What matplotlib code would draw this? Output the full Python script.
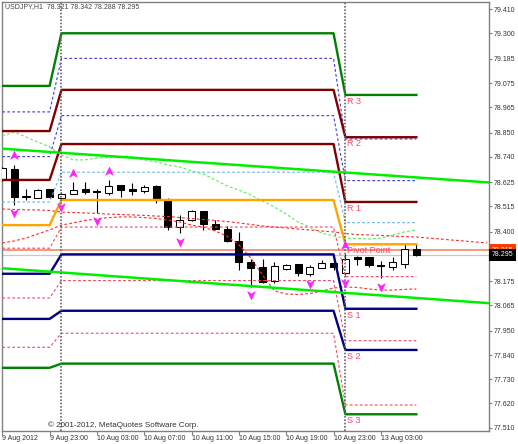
import numpy as np
import matplotlib
matplotlib.use('Agg')
import matplotlib.pyplot as plt
from matplotlib.path import Path
from matplotlib.transforms import offset_copy, blended_transform_factory

plt.rcParams['font.family'] = ['Liberation Sans', 'DejaVu Sans']

# USDJPY H1 bars, 9 Aug 19:00 .. 13 Aug 06:00
opens = [78.635, 78.683, 78.560, 78.555, 78.592, 78.555, 78.571, 78.592, 78.583, 78.577,
         78.612, 78.592, 78.587, 78.608, 78.544, 78.423, 78.451, 78.494, 78.434, 78.412,
         78.358, 78.262, 78.241, 78.174, 78.231, 78.252, 78.210, 78.237, 78.256, 78.212,
         78.284, 78.283, 78.249, 78.238, 78.253, 78.321]
highs = [78.694, 78.705, 78.594, 78.592, 78.596, 78.580, 78.626, 78.627, 78.593, 78.635,
         78.614, 78.621, 78.614, 78.610, 78.551, 78.476, 78.499, 78.496, 78.451, 78.428,
         78.399, 78.276, 78.276, 78.262, 78.253, 78.253, 78.249, 78.271, 78.271, 78.299,
         78.291, 78.285, 78.267, 78.286, 78.342, 78.342]
lows = [78.630, 78.523, 78.544, 78.554, 78.555, 78.551, 78.569, 78.570, 78.485, 78.567,
        78.558, 78.567, 78.576, 78.530, 78.408, 78.393, 78.449, 78.408, 78.408, 78.355,
        78.226, 78.150, 78.169, 78.167, 78.228, 78.201, 78.199, 78.234, 78.226, 78.203,
        78.249, 78.240, 78.188, 78.228, 78.233, 78.288]
closes = [78.688, 78.559, 78.557, 78.589, 78.558, 78.573, 78.589, 78.578, 78.580, 78.608,
          78.589, 78.587, 78.603, 78.544, 78.423, 78.451, 78.495, 78.435, 78.412, 78.358,
          78.262, 78.234, 78.173, 78.244, 78.251, 78.211, 78.240, 78.256, 78.238, 78.276,
          78.277, 78.249, 78.242, 78.262, 78.321, 78.295]

# daily pivot levels (9 Aug, 10 Aug, 13 Aug) and bars per day on the chart
bars_per_day = [5, 24, 7]
r3 = [79.062, 79.301, 79.021]
m5 = [78.944, 79.187, 78.821]
r2 = [78.857, 79.044, 78.829]
m4 = [78.741, 78.927, 78.632]
r1 = [78.635, 78.798, 78.535]
m3 = [78.535, 78.670, 78.441]
pivot = [78.430, 78.544, 78.343]
m2 = [78.325, 78.421, 78.196]
s1 = [78.209, 78.297, 78.050]
m1 = [78.099, 78.178, 77.905]
s2 = [78.004, 78.041, 77.863]
m0 = [77.875, 77.939, 77.613]
s3 = [77.782, 77.801, 77.571]

# indicator curves
green_ma = [78.835, 78.853, 78.830, 78.807, 78.785, 78.748, 78.726, 78.726, 78.735, 78.737,
            78.739, 78.739, 78.726, 78.717, 78.703, 78.694, 78.676, 78.662, 78.635, 78.608,
            78.589, 78.567, 78.539, 78.512, 78.480, 78.444, 78.421, 78.394, 78.380, 78.371,
            78.369, 78.367, 78.371, 78.385, 78.399, 78.408]
red_fast = [78.349, 78.358, 78.371, 78.390, 78.408, 78.430, 78.440, 78.451, 78.458, 78.464,
            78.467, 78.467, 78.464, 78.460, 78.453, 78.444, 78.430, 78.421, 78.403, 78.380,
            78.340, 78.281, 78.203, 78.131, 78.117, 78.115, 78.119, 78.131, 78.144, 78.149,
            78.147, 78.140, 78.135, 78.135, 78.138, 78.140]
red_slow = [78.503, 78.501, 78.499, 78.499, 78.496, 78.489, 78.487, 78.485, 78.483, 78.480,
            78.478, 78.476, 78.474, 78.471, 78.469, 78.464, 78.460, 78.455, 78.451, 78.446,
            78.440, 78.433, 78.426, 78.421, 78.417, 78.412, 78.408, 78.403, 78.399, 78.392,
            78.387, 78.385, 78.383, 78.380, 78.378, 78.376, 78.371, 78.367, 78.362, 78.358,
            78.353, 78.349]

# trend lines (bar index, price)
upper_trend = [(0, 78.777), (41, 78.624)]
lower_trend = [(0, 78.234), (41, 78.076)]

up_fractals = [1, 6, 9, 29]
down_fractals = [1, 5, 8, 15, 21, 26, 29, 32]

separators = [5, 29]
ask, bid = 78.315, 78.295

ytick_vals = [79.410, 79.300, 79.185, 79.075, 78.965, 78.850, 78.740, 78.625, 78.515,
              78.400, 78.175, 78.065, 77.950, 77.840, 77.730, 77.620, 77.510]
xtick_pos = [0, 4, 8, 12, 16, 20, 24, 28, 32]
xtick_labels = ['9 Aug 2012', '9 Aug 23:00', '10 Aug 03:00', '10 Aug 07:00', '10 Aug 11:00',
                '10 Aug 15:00', '10 Aug 19:00', '10 Aug 23:00', '13 Aug 03:00']

fig = plt.figure(figsize=(5.18, 4.44), dpi=100)
ax = fig.add_axes([2 / 518, 13 / 444, 487 / 518, 429 / 444])
ax.set_xlim(-0.025, 41.14)
ax.set_ylim(77.495, 79.443)

x = np.arange(len(opens))
o = np.array(opens)
c = np.array(closes)

# candles
ax.vlines(x, lows, highs, color='black', lw=0.8, zorder=3)
face = ['white' if cc >= oo else 'black' for oo, cc in zip(o, c)]
ax.bar(x, np.abs(c - o), bottom=np.minimum(o, c), width=0.6, color=face,
       edgecolor='black', linewidth=0.75, zorder=4)

DOT = (0, (2.5, 2))

solid_levels = [(r3, '#008000'), (r2, '#800000'), (r1, '#800000'), (pivot, '#ffa500'),
                (s1, '#000080'), (s2, '#000080'), (s3, '#008000')]
dotted_levels = [(m5, '#3c3cdc'), (m4, '#3c3cdc'), (m3, '#6cb4ec'),
                 (m2, '#f04860'), (m1, '#f04860'), (m0, '#f04860')]

for lev, col in dotted_levels:
    ax.plot(x, np.repeat(lev, bars_per_day), color=col, lw=0.8, ls=DOT, zorder=5)
for lev, col in solid_levels:
    ax.plot(x, np.repeat(lev, bars_per_day), color=col, lw=1.7, zorder=6)

ax.plot(x, green_ma, color='#55ee55', lw=0.8, ls=DOT, zorder=5)
ax.plot(x, red_fast, color='#ff2a2a', lw=0.8, ls=DOT, zorder=5)
ax.plot(np.arange(len(red_slow)), red_slow, color='#ff2a2a', lw=0.8, ls=DOT, zorder=5)

ax.axline(*upper_trend, color='#00ee00', lw=1.8, zorder=6)
ax.axline(*lower_trend, color='#00ee00', lw=1.8, zorder=6)

ax.axhline(ask, color='#f47c55', lw=1.1, zorder=2)
ax.axhline(bid, color='#c8c8c8', lw=0.9, zorder=2)

for s in separators:
    ax.axvline(s, color='#666666', lw=1.2, ls=(0, (1, 1)), zorder=7)

# level labels on the last day
label_color = '#ff4466'
names = ['R 3', 'R 2', 'R 1', 'Pivot Point', 'S 1', 'S 2', 'S 3']
for name, lev in zip(names, [r3, r2, r1, pivot, s1, s2, s3]):
    ax.annotate(name, xy=(separators[1], lev[2]), xytext=(1, -4.7), textcoords='offset points',
                ha='left', va='center', fontsize=6.5, color=label_color, zorder=8)

# fractal arrows
up_arrow = Path([(0, 1), (0.9, -0.9), (0, -0.35), (-0.9, -0.9), (0, 1)],
                [Path.MOVETO, Path.LINETO, Path.LINETO, Path.LINETO, Path.CLOSEPOLY])
down_arrow = Path([(0, -1), (0.9, 0.9), (0, 0.35), (-0.9, 0.9), (0, -1)],
                  [Path.MOVETO, Path.LINETO, Path.LINETO, Path.LINETO, Path.CLOSEPOLY])
ax.plot(up_fractals, [highs[i] for i in up_fractals], ls='none', marker=up_arrow, ms=6,
        color='#ff22ff', mec='#ff22ff', mew=0.5,
        transform=offset_copy(ax.transData, fig, y=6.5, units='points'), zorder=8)
ax.plot(down_fractals, [lows[i] for i in down_fractals], ls='none', marker=down_arrow, ms=6,
        color='#ff22ff', mec='#ff22ff', mew=0.5,
        transform=offset_copy(ax.transData, fig, y=-6, units='points'), zorder=8)

# axes styling
for sp in ax.spines.values():
    sp.set_color('#808080')
    sp.set_linewidth(1.0)
ax.yaxis.tick_right()
ax.set_yticks(ytick_vals)
ax.set_yticklabels([f'{v:.3f}' for v in ytick_vals])
ax.tick_params(axis='y', length=2.2, width=0.8, color='#808080', labelsize=5,
               labelcolor='#333333', pad=1)
ax.set_xticks(xtick_pos)
ax.set_xticklabels(xtick_labels)
ax.tick_params(axis='x', length=2.8, width=0.8, color='#808080', labelsize=5,
               labelcolor='#333333', pad=0.2)
for t in ax.get_xticklabels():
    t.set_horizontalalignment('left')

# price boxes on the right scale
trans = blended_transform_factory(ax.transAxes, ax.transData)
ax.text(1.006, ask, f'{ask:.3f}', transform=trans, ha='left', va='center', fontsize=5,
        color='white', bbox=dict(boxstyle='square,pad=0.35', fc='#ff3c00', ec='none'),
        clip_on=False, zorder=10)
ax.text(1.006, bid, f'{bid:.3f}', transform=trans, ha='left', va='center', fontsize=5,
        color='white', bbox=dict(boxstyle='square,pad=0.35', fc='black', ec='none'),
        clip_on=False, zorder=11)

fig.text(5 / 518, 1 - 6.7 / 444,
         f'USDJPY,H1  {opens[-1]:.3f} {highs[-1]:.3f} {lows[-1]:.3f} {closes[-1]:.3f}',
         ha='left', va='center', fontsize=5, color='#444444')
fig.text(48 / 518, 1 - 425 / 444, '© 2001-2012, MetaQuotes Software Corp.',
         ha='left', va='center', fontsize=5.8, color='#333333')

fig.savefig('out.png', dpi=100)
